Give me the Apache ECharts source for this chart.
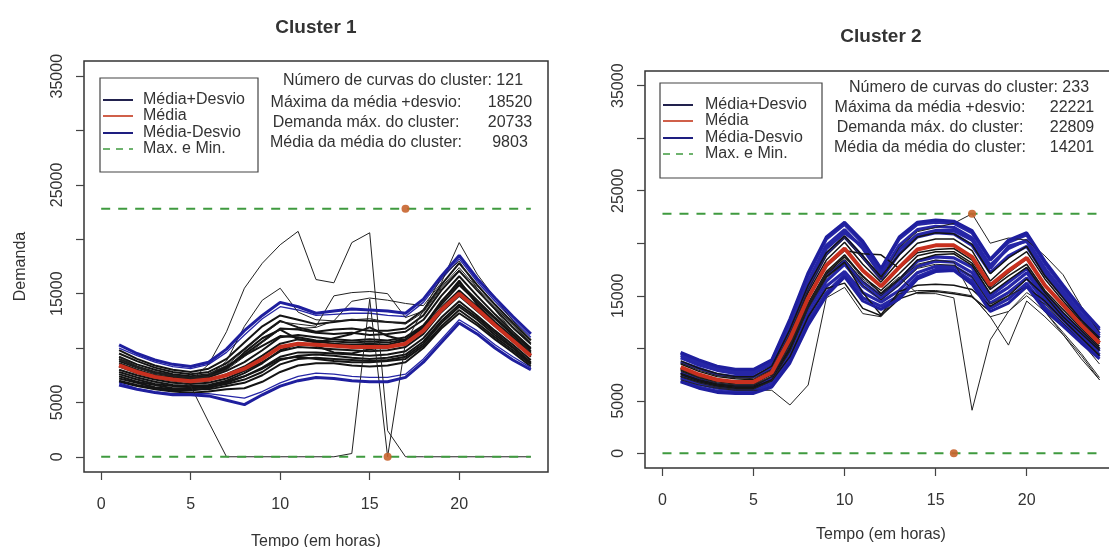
<!DOCTYPE html>
<html>
<head>
<meta charset="utf-8">
<script src="https://cdn.jsdelivr.net/npm/echarts@6/dist/echarts.min.js"></script>
<style>
  html, body { margin: 0; padding: 0; background: #fff; }
  #chart { width: 1109px; height: 547px; }
</style>
</head>
<body>
<div id="chart"></div>
<script>
// horas do dia
const hours = [1, 2, 3, 4, 5, 6, 7, 8, 9, 10, 11, 12, 13, 14, 15, 16, 17, 18, 19, 20, 21, 22, 23, 24]
const xTicks = [0, 5, 10, 15, 20]
const yTicks = [0, 5000, 10000, 15000, 20000, 25000, 30000, 35000]
const yLabels = [0, 5000, 15000, 25000, 35000]

// linhas de máximo e mínimo (globais) e os pontos onde ocorrem
const maxMin = [22809, 0]
const maxPoint = [17, 22809]
const minPoint = [16, 0]

// ---- Cluster 1 ----
const c1Mean = [8400, 7800, 7350, 7100, 6950, 7100, 7500, 8100, 9000, 10100, 10400, 10300, 10200, 10100, 10100, 10100, 10400, 11600, 13500, 15000, 13600, 12100, 10700, 9300]
const c1Upper = [10300, 9500, 8900, 8500, 8300, 8700, 9900, 11600, 13000, 14200, 13800, 13200, 13400, 13600, 13500, 13400, 13200, 14500, 16600, 18520, 16400, 14600, 12900, 11300]
const c1Lower = [6600, 6200, 5900, 5700, 5700, 5600, 5200, 4800, 5700, 6500, 7000, 7300, 7200, 7000, 6900, 6900, 7300, 8700, 10500, 12300, 11300, 10000, 8900, 8000]
const c1Blue = [
  [10000, 9300, 8700, 8300, 8100, 8500, 9600, 11200, 12700, 13800, 13500, 13000, 13100, 13200, 13200, 13000, 12900, 14200, 16300, 18200, 16100, 14300, 12600, 11000],
  [6800, 6300, 6000, 5800, 5800, 5800, 5600, 5400, 6000, 6800, 7400, 7700, 7600, 7400, 7300, 7300, 7600, 9000, 10800, 12600, 11600, 10300, 9200, 8200]
]
const c1Curves = [
  [9800, 9000, 8400, 8000, 7800, 8100, 9000, 10500, 12000, 13000, 12600, 12200, 12400, 12600, 12500, 12400, 12300, 13500, 15800, 17800, 15800, 14000, 12300, 10700],
  [9200, 8500, 8000, 7600, 7400, 7600, 8300, 9400, 10600, 11800, 11700, 11400, 11300, 11400, 11200, 11300, 11500, 12600, 14800, 16600, 14800, 13100, 11500, 10000],
  [8800, 8200, 7700, 7400, 7200, 7300, 7900, 8700, 9800, 11000, 11200, 11000, 10800, 10700, 10800, 10700, 11000, 12100, 14000, 15800, 14200, 12700, 11200, 9700],
  [8000, 7500, 7100, 6800, 6700, 6800, 7200, 7900, 8700, 9700, 10100, 10000, 9900, 9800, 9700, 9800, 10100, 11300, 13300, 14800, 13400, 12000, 10600, 9200],
  [7600, 7100, 6700, 6500, 6400, 6500, 6900, 7400, 8200, 9200, 9600, 9600, 9500, 9400, 9300, 9400, 9700, 10900, 12800, 14300, 13000, 11600, 10300, 8900],
  [7200, 6800, 6400, 6200, 6200, 6200, 6500, 6800, 7500, 8500, 9000, 9100, 9000, 8900, 8800, 8900, 9200, 10400, 12300, 13800, 12600, 11200, 10000, 8600],
  [6900, 6500, 6200, 6000, 5900, 6000, 6200, 6300, 6900, 7800, 8400, 8600, 8600, 8400, 8300, 8400, 8700, 10000, 11800, 13200, 12100, 10800, 9600, 8300],
  [9500, 8800, 8200, 7800, 7600, 7800, 8600, 9900, 11300, 12500, 11900, 11500, 11700, 11800, 11600, 11600, 11800, 13000, 15300, 17100, 15300, 13600, 11900, 10400],
  [8300, 7700, 7300, 7000, 6900, 7000, 7600, 8300, 9300, 10400, 10800, 10600, 10400, 10300, 10400, 10300, 10700, 11800, 13700, 15300, 13800, 12300, 10900, 9500],
  [7400, 6900, 6600, 6300, 6300, 6400, 6700, 7100, 7800, 8900, 9300, 9400, 9300, 9100, 9000, 9100, 9400, 10600, 12500, 14000, 12800, 11400, 10100, 8700],
  [8600, 8000, 7500, 7300, 7100, 7400, 8100, 9600, 10900, 11700, 10800, 10500, 10900, 11300, 11900, 11100, 10700, 11900, 14200, 16200, 14000, 12400, 11000, 9600],
  [7800, 7300, 6900, 6600, 6500, 6600, 7000, 7700, 8600, 9800, 10400, 10200, 9600, 9500, 9900, 10100, 10400, 11600, 13500, 15200, 13600, 12100, 10700, 9300],
  [9000, 8300, 7800, 7500, 7300, 7500, 8200, 9300, 10200, 11100, 11000, 10700, 10600, 10500, 10600, 10500, 10800, 12000, 14300, 16000, 14400, 12800, 11300, 9900],
  [7000, 6600, 6300, 6100, 6100, 6300, 6800, 7400, 8100, 9000, 9200, 9000, 8800, 8700, 8700, 8800, 9000, 10200, 12000, 13500, 12300, 11000, 9800, 8500]
]
const c1Outliers = [
  [8600, 7900, 7400, 7100, 7000, 8500, 11500, 15500, 17800, 19500, 20733, 16300, 16000, 19700, 20600, 2400, 0, 0, 0, 0, 0, 0, 0, 0],
  [9200, 8300, 7600, 7100, 6500, 3200, 0, 0, 0, 0, 0, 0, 0, 300, 14500, 0, 10500, 13500, 16500, 18000, 15500, 13500, 11500, 9500],
  [8600, 8000, 7500, 7200, 7100, 7400, 8800, 12000, 14400, 15500, 13300, 12600, 12500, 12600, 12700, 12400, 12200, 13300, 15500, 17200, 15300, 13500, 11800, 10300],
  [9000, 8300, 7800, 7500, 7300, 7600, 8400, 9800, 11200, 12400, 12200, 12000, 14800, 15100, 15200, 15000, 12800, 13400, 15600, 17400, 15500, 13800, 12100, 10500],
  [8900, 8200, 7700, 7400, 7200, 7400, 8000, 9200, 10500, 11700, 11800, 11900, 12500, 14300, 14600, 14400, 14100, 13900, 16000, 19700, 16800, 14600, 12500, 10800]
]
const c1Stats = ['121', '18520', '20733', '9803']

// ---- Cluster 2 ----
const c2Mean = [8200, 7500, 7000, 6800, 6800, 7700, 10900, 14800, 17900, 19500, 17400, 15900, 17700, 19400, 19800, 19800, 18700, 16000, 17400, 18600, 16000, 14100, 12200, 10500]
const c2Upper = [9600, 8900, 8300, 8000, 8000, 8900, 12800, 17200, 20600, 22000, 20200, 17600, 20600, 22000, 22221, 22100, 21200, 18500, 20300, 21000, 18300, 16000, 13800, 11900]
const c2Lower = [6800, 6200, 5800, 5700, 5700, 6300, 8600, 12200, 15000, 16800, 14500, 13700, 14700, 16600, 17300, 17400, 16100, 13500, 14300, 15900, 13600, 12100, 10500, 9000]
const c2Blue = [
  [9500, 8800, 8200, 7900, 7900, 8800, 12500, 17000, 20400, 21800, 20000, 17500, 20400, 21800, 22000, 21900, 21000, 18400, 20100, 20800, 18100, 15800, 13600, 11700],
  [9100, 8400, 7900, 7600, 7600, 8500, 12000, 16400, 19800, 21300, 19500, 17000, 19800, 21300, 21600, 21500, 20500, 17900, 19500, 20300, 17600, 15400, 13200, 11400],
  [8700, 8100, 7500, 7300, 7300, 8100, 11500, 15700, 19000, 20600, 18700, 16600, 19000, 20600, 21000, 20900, 19800, 17200, 18800, 19700, 17000, 14900, 12800, 11000],
  [9300, 8600, 8000, 7700, 7700, 8700, 11400, 15900, 19500, 21000, 19700, 17300, 19400, 20800, 21200, 21200, 20300, 17600, 19700, 20200, 17300, 15100, 12900, 11200],
  [7700, 7000, 6600, 6400, 6400, 7200, 10200, 14000, 16900, 18300, 16300, 15000, 16500, 18300, 18700, 18600, 17700, 15000, 16300, 17600, 15200, 13300, 11600, 9900],
  [7200, 6600, 6200, 6000, 6000, 6700, 9400, 13100, 15900, 17300, 15300, 14400, 15500, 17200, 17800, 17800, 16800, 14300, 15300, 16700, 14400, 12700, 11000, 9400],
  [6900, 6300, 5900, 5800, 5800, 6400, 8900, 12600, 15300, 17000, 14800, 14000, 15000, 16800, 17500, 17500, 16400, 13800, 14700, 16200, 13900, 12300, 10700, 9200],
  [7400, 6800, 6400, 6200, 6200, 7100, 9700, 13600, 16400, 18000, 15900, 14700, 16100, 17800, 18300, 18200, 17200, 14700, 15800, 17200, 14800, 13000, 11300, 9700]
]
const c2Curves = [
  [8500, 7800, 7300, 7100, 7000, 7900, 11200, 15300, 18400, 20100, 18000, 16300, 18300, 20000, 20400, 20400, 19300, 16400, 18000, 19200, 16600, 14500, 12500, 10800],
  [7900, 7200, 6800, 6600, 6600, 7500, 10500, 14300, 17300, 18900, 16800, 15500, 17100, 18800, 19200, 19200, 18100, 15600, 16900, 18000, 15500, 13700, 11900, 10200],
  [8800, 8100, 7600, 7300, 7300, 8300, 11800, 16000, 19100, 20700, 18800, 16800, 18900, 20600, 21000, 20900, 19900, 17100, 18600, 19700, 16900, 14800, 12700, 11000],
  [7500, 6900, 6500, 6300, 6300, 7000, 9800, 13900, 17100, 18700, 16900, 15200, 16600, 18400, 18900, 19000, 17900, 15200, 16500, 17700, 15300, 13400, 11700, 10000],
  [8000, 7300, 6900, 6700, 6700, 7600, 10600, 14700, 17800, 19300, 19000, 18900, 17600, 19100, 19400, 19500, 18400, 15800, 17200, 18500, 16000, 14000, 12100, 10400],
  [7600, 7000, 6600, 6400, 6400, 7300, 10000, 14100, 16800, 18200, 15300, 13200, 15400, 16000, 16100, 16000, 15600, 14000, 15000, 16600, 15000, 13000, 11400, 9800],
  [7300, 6800, 6400, 6200, 6200, 6900, 9200, 13000, 15700, 16200, 13800, 13100, 14700, 15300, 15400, 15200, 14900, 13500, 14300, 15800, 14500, 12700, 11000, 9300]
]
const c2Outliers = [
  [7000, 6500, 6200, 6000, 6000, 6000, 4600, 6500, 14800, 15800, 13300, 13000, 15200, 15500, 15500, 15300, 15000, 13000, 13500, 15300, 14200, 12400, 10600, 8500],
  [8000, 7300, 6900, 6700, 6700, 7500, 10400, 14200, 17200, 18800, 16600, 15300, 16800, 15200, 15200, 14800, 4100, 10800, 13500, 15000, 13500, 11500, 9500, 7200],
  [7800, 7200, 6700, 6500, 6500, 7300, 10200, 14000, 17000, 18500, 16400, 15000, 16500, 18000, 18400, 18200, 15000, 13000, 10300, 14500, 13000, 11300, 9300, 7000],
  [7300, 6700, 6300, 6100, 6100, 6900, 9700, 13800, 16700, 18100, 16000, 14600, 16000, 17600, 18000, 17900, 16800, 14200, 15000, 15900, 13500, 11300, 9000, 7000],
  [8600, 7900, 7400, 7200, 7100, 8000, 11400, 15600, 18800, 20500, 18500, 16600, 19600, 21100, 21500, 21900, 22809, 20000, 20500, 20300, 18800, 17000, 14000, 11500]
]
const c2Stats = ['233', '22221', '22809', '14201']

const statLabels = ['Máxima da média +desvio:', 'Demanda máx. do cluster:', 'Média da média do cluster:']
const legendNames = ['Média+Desvio', 'Média', 'Média-Desvio', 'Max. e Min.']

const FONT = '"Liberation Sans", Arial, sans-serif'
const TXT = '#333'
const BLUE = '#1f1f9e'
const RED = '#c8301f'
const GREEN = '#3f9a3f'

// layout de cada painel (px)
const panels = [
  { left: 84, top: 61, width: 464, height: 411, cx: 316, titleY: 28, title: 'Cluster 1', yName: 'Demanda',
    labelMargin: 25, nameGap: 62,
    legend: { x: 100, y: 78, w: 158, h: 94, rows: [100, 116, 133, 149], lx: 103, tx: 143 },
    stats: { y: [81, 103, 123, 143], head: 403, lab: 366, num: 510 } },
  { left: 645, top: 71, width: 472, height: 397, cx: 881, titleY: 37, title: 'Cluster 2', yName: '',
    labelMargin: 25, nameGap: 59,
    legend: { x: 660, y: 83, w: 162, h: 95, rows: [105, 121, 138, 154], lx: 663, tx: 705 },
    stats: { y: [88, 108, 128, 148], head: 969, lab: 930, num: 1072 } }
]

function pts(vals) {
  return vals.map((v, i) => [hours[i], v])
}

function line(idx, vals, color, width, z, dash) {
  return {
    type: 'line',
    xAxisIndex: idx,
    yAxisIndex: idx,
    data: pts(vals),
    showSymbol: false,
    silent: true,
    z: z,
    lineStyle: { color: color, width: width, type: dash || 'solid' },
    animation: false
  }
}

function panelSeries(idx, curves, outliers, blue, upper, mean, lower) {
  const s = []
  if (idx === 1) {
    blue.forEach(c => s.push(line(idx, c, '#2626a6', 3.2, 2)))
    curves.forEach(c => s.push(line(idx, c, '#141414', 1.5, 3)))
  } else {
    curves.forEach(c => s.push(line(idx, c, '#141414', 2, 2)))
    blue.forEach(c => s.push(line(idx, c, '#2626a6', 1.3, 3)))
  }
  outliers.forEach(c => s.push(line(idx, c, '#222', 1, 4)))
  s.push(line(idx, upper, BLUE, 3, 5))
  s.push(line(idx, lower, BLUE, 3, 5))
  s.push(line(idx, mean, RED, 4, 6))
  maxMin.forEach(v => {
    s.push({
      type: 'line', xAxisIndex: idx, yAxisIndex: idx, z: 7, silent: true, animation: false,
      showSymbol: false, data: [[0, v], [24, v]],
      lineStyle: { color: GREEN, width: 2, type: [9, 8] }
    })
  })
  s.push({
    type: 'scatter', xAxisIndex: idx, yAxisIndex: idx, z: 8, silent: true, animation: false,
    symbolSize: 8, data: [maxPoint, minPoint],
    itemStyle: { color: '#c8642d', opacity: 0.9 }
  })
  return s
}

function textEl(x, y, text, size, align, bold) {
  return {
    type: 'text', x: x, y: y, silent: true, z: 20,
    style: {
      text: text, fill: TXT, font: (bold ? 'bold ' : '') + size + 'px ' + FONT,
      align: align, verticalAlign: 'middle', textAlign: align, textVerticalAlign: 'middle'
    }
  }
}

function panelGraphics(p, stats) {
  const g = []
  const L = p.legend
  g.push(textEl(p.cx, p.titleY, p.title, 19, 'center', true))
  g.push({ type: 'rect', z: 20, silent: true, shape: { x: L.x, y: L.y, width: L.w, height: L.h },
    style: { fill: '#fff', stroke: '#444', lineWidth: 1.2 } })
  const lc = ['#22224e', '#d0604a', '#1e1e80', GREEN]
  L.rows.forEach((ry, i) => {
    g.push({ type: 'line', z: 21, silent: true, shape: { x1: L.lx, y1: ry, x2: L.lx + 30, y2: ry },
      style: { stroke: lc[i], lineWidth: i === 3 ? 1.6 : 2, lineDash: i === 3 ? [7, 6] : null } })
    g.push(textEl(L.tx, ry, legendNames[i], 16, 'left'))
  })
  const S = p.stats
  g.push(textEl(S.head, S.y[0], 'Número de curvas do cluster: ' + stats[0], 16, 'center'))
  statLabels.forEach((t, i) => {
    g.push(textEl(S.lab, S.y[i + 1], t, 16, 'center'))
    g.push(textEl(S.num, S.y[i + 1], stats[i + 1], 16, 'center'))
  })
  return g
}

const chart = echarts.init(document.getElementById('chart'), null, { renderer: 'canvas' })

const axisText = { color: TXT, fontSize: 16, fontFamily: FONT }

const option = {
  backgroundColor: '#fff',
  animation: false,
  grid: panels.map(p => ({
    left: p.left, top: p.top, width: p.width, height: p.height,
    containLabel: false, outerBoundsMode: 'none',
    show: true, borderColor: '#333', borderWidth: 1.5, backgroundColor: 'transparent'
  })),
  xAxis: panels.map((p, i) => ({
    type: 'value', gridIndex: i, min: -0.96, max: 24.96,
    name: 'Tempo (em horas)', nameLocation: 'middle', nameGap: p.nameGap,
    nameTextStyle: axisText,
    axisLine: { show: false, onZero: false },
    axisTick: { show: true, inside: false, length: 8, customValues: xTicks, lineStyle: { color: '#444', width: 1.2 } },
    axisLabel: { show: true, margin: p.labelMargin, customValues: xTicks, formatter: v => String(v), ...axisText },
    splitLine: { show: false }
  })),
  yAxis: panels.map((p, i) => ({
    type: 'value', gridIndex: i, min: -1400, max: 36400,
    name: p.yName, nameLocation: 'middle', nameGap: 55, nameRotate: 90,
    nameTextStyle: axisText,
    axisLine: { show: false, onZero: false },
    axisTick: { show: true, inside: false, length: 8, customValues: yTicks, lineStyle: { color: '#444', width: 1.2 } },
    axisLabel: { show: true, rotate: 90, margin: 18, customValues: yLabels, formatter: v => String(v), ...axisText },
    splitLine: { show: false }
  })),
  series: [
    ...panelSeries(0, c1Curves, c1Outliers, c1Blue, c1Upper, c1Mean, c1Lower),
    ...panelSeries(1, c2Curves, c2Outliers, c2Blue, c2Upper, c2Mean, c2Lower)
  ],
  graphic: [
    ...panelGraphics(panels[0], c1Stats),
    ...panelGraphics(panels[1], c2Stats)
  ]
}

chart.setOption(option)
</script>
</body>
</html>
